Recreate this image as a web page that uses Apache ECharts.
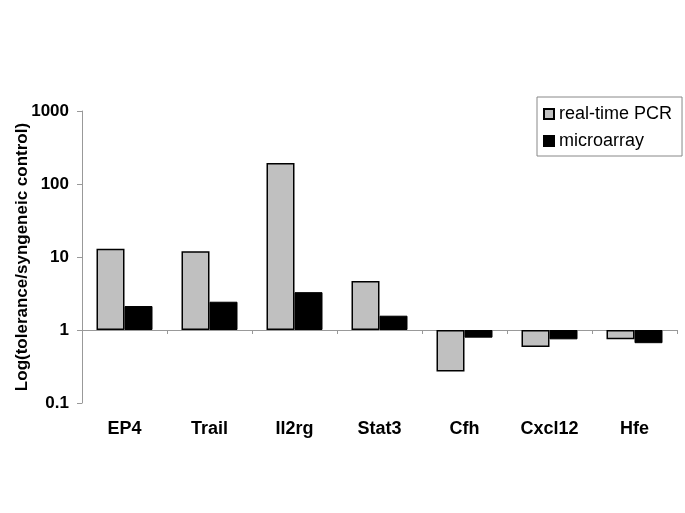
<!DOCTYPE html>
<html>
<head>
<meta charset="utf-8">
<script src="https://cdn.jsdelivr.net/npm/echarts@6/dist/echarts.min.js"></script>
<style>
  html, body { margin: 0; padding: 0; background: #fff; }
  #chart { width: 685px; height: 513px; }
</style>
</head>
<body>
<div id="chart"></div>
<script>
// values are the ratio tolerance/syngeneic control, drawn on a log10 scale around 1
const genes = ['EP4', 'Trail', 'Il2rg', 'Stat3', 'Cfh', 'Cxcl12', 'Hfe'];
const pcr = [13.0, 12.0, 194, 4.7, 0.27, 0.585, 0.745];
const microarray = [2.13, 2.44, 3.3, 1.57, 0.785, 0.745, 0.66];
const yTicks = ['0.1', '1', '10', '100', '1000'];

const font = '"Liberation Sans", Arial, sans-serif';
const chart = echarts.init(document.getElementById('chart'));

chart.setOption({
  animation: false,
  backgroundColor: '#fff',
  grid: { left: 82, right: 8, top: 111, bottom: 110, outerBoundsMode: 'none' },
  legend: {
    orient: 'vertical',
    left: 537,
    top: 97,
    padding: [8, 10, 6, 6],
    borderColor: '#888',
    borderWidth: 1,
    itemWidth: 10,
    itemHeight: 10,
    itemGap: 9,
    icon: 'rect',
    textStyle: { fontFamily: font, fontSize: 18, color: '#000' },
    data: ['real-time PCR', 'microarray']
  },
  xAxis: {
    type: 'category',
    data: genes,
    axisLine: { onZero: true, lineStyle: { color: '#999', width: 1 } },
    axisTick: { show: true, length: 4, lineStyle: { color: '#999' } },
    axisLabel: {
      margin: 17,
      fontFamily: font,
      fontSize: 18,
      fontWeight: 'bold',
      color: '#000'
    }
  },
  yAxis: {
    type: 'value',
    min: -1,
    max: 3,
    interval: 1,
    name: 'Log(tolerance/syngeneic control)',
    nameLocation: 'middle',
    nameRotate: 90,
    nameGap: 51,
    nameMoveOverlap: false,
    nameTextStyle: { fontFamily: font, fontSize: 17, fontWeight: 'bold', color: '#000' },
    axisLine: { show: true, lineStyle: { color: '#999', width: 1 } },
    axisTick: { show: true, length: 5, lineStyle: { color: '#999' } },
    splitLine: { show: false },
    axisLabel: {
      margin: 13,
      fontFamily: font,
      fontSize: 17,
      fontWeight: 'bold',
      color: '#000',
      formatter: v => yTicks[Math.round(v) + 1]
    }
  },
  series: [
    {
      name: 'real-time PCR',
      type: 'bar',
      barWidth: 28,
      barGap: '0%',
      data: pcr.map(v => Math.log10(v)),
      itemStyle: { color: '#c0c0c0', borderColor: '#000', borderWidth: 1.5 }
    },
    {
      name: 'microarray',
      type: 'bar',
      barWidth: 28,
      data: microarray.map(v => Math.log10(v)),
      itemStyle: { color: '#000', borderColor: '#000', borderWidth: 1 }
    }
  ]
});
</script>
</body>
</html>
